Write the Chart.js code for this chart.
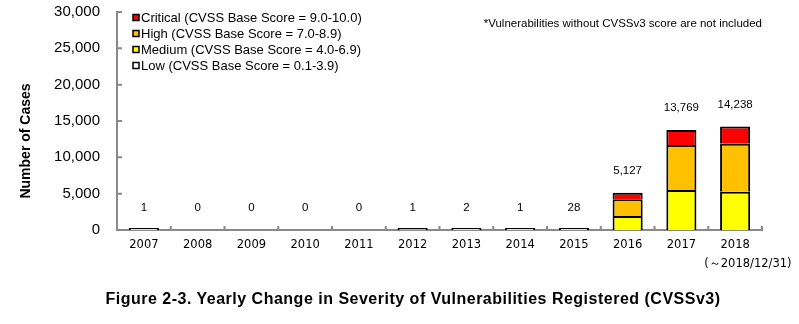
<!DOCTYPE html>
<html>
<head>
<meta charset="utf-8">
<script src="https://cdn.jsdelivr.net/npm/chart.js@4.4.1/dist/chart.umd.min.js"></script>
<style>
  body { margin: 0; background: #fff; }
  #wrap { position: relative; width: 799px; height: 324px; }
  #note { position: absolute; right: 37px; top: 17px; font: 11.5px "Liberation Sans", Arial, sans-serif; color: #000; }
  #fig { position: absolute; left: 0; width: 826px; top: 290px; text-align: center; font: bold 16px "Liberation Sans", Arial, sans-serif; letter-spacing: 0.5px; color: #000; }
</style>
</head>
<body>
<div id="wrap">
  <canvas id="chart" width="799" height="324"></canvas>
  <div id="note">*Vulnerabilities without CVSSv3 score are not included</div>
  <div id="fig">Figure 2-3. Yearly Change in Severity of Vulnerabilities Registered (CVSSv3)</div>
</div>
<script>
const years = ['2007', '2008', '2009', '2010', '2011', '2012', '2013', '2014', '2015', '2016', '2017', ['2018', '       (～2018/12/31)']];
// null = no cases in that severity
const low      = [null, null, null, null, null, null, null, null, null, null, null, null];
const medium   = [1, null, null, null, null, null, 2, 1, 28, 1930, 5500, 5270];
const high     = [null, null, null, null, null, 1, null, null, null, 2300, 6200, 6600];
const critical = [null, null, null, null, null, null, null, null, null, 897, 2069, 2368];
const yTicks = [0, 5000, 10000, 15000, 20000, 25000, 30000];

const series = [
  { label: 'Low (CVSS Base Score = 0.1-3.9)', data: low, color: '#ffffff' },
  { label: 'Medium (CVSS Base Score = 4.0-6.9)', data: medium, color: '#ffff00' },
  { label: 'High (CVSS Base Score = 7.0-8.9)', data: high, color: '#ffc000' },
  { label: 'Critical (CVSS Base Score = 9.0-10.0)', data: critical, color: '#ff0000' },
];
const totals = years.map((_, i) => series.reduce((s, d) => s + (d.data[i] || 0), 0));

const axisColor = '#898989';

// totals above bars, inside tick marks, legend box and y title
const extras = {
  id: 'extras',
  afterDatasetsDraw(chart) {
    const { ctx, scales: { x, y }, chartArea } = chart;
    ctx.save();
    // totals
    ctx.fillStyle = '#000';
    ctx.font = '11.5px "Liberation Sans", Arial, sans-serif';
    ctx.textAlign = 'center';
    ctx.textBaseline = 'middle';
    totals.forEach((t, i) => {
      ctx.fillText(t.toLocaleString('en-US'), x.getPixelForValue(i), y.getPixelForValue(t) - 22);
    });
    // ticks pointing inward
    ctx.strokeStyle = axisColor;
    ctx.lineWidth = 2;
    ctx.beginPath();
    yTicks.forEach(v => {
      const py = y.getPixelForValue(v);
      ctx.moveTo(chartArea.left, py);
      ctx.lineTo(chartArea.left + 5, py);
    });
    for (let i = 0; i < years.length; i++) {
      const px = x.getPixelForValue(i) + (x.getPixelForValue(1) - x.getPixelForValue(0)) / 2;
      ctx.moveTo(px, chartArea.bottom);
      ctx.lineTo(px, chartArea.bottom - 4);
    }
    ctx.stroke();
    // legend (reverse order)
    ctx.font = '13px "Liberation Sans", Arial, sans-serif';
    ctx.textAlign = 'left';
    const items = chart.data.datasets.slice().reverse();
    items.forEach((ds, k) => {
      const cy = 18 + k * 16;
      ctx.fillStyle = ds.backgroundColor;
      ctx.fillRect(133, cy - 3.5, 6, 6);
      ctx.strokeStyle = '#000';
      ctx.lineWidth = 1.5;
      ctx.strokeRect(133, cy - 3.5, 6, 6);
      ctx.fillStyle = '#000';
      ctx.fillText(ds.label, 141, cy);
    });
    // y title
    ctx.translate(26, 141);
    ctx.rotate(-Math.PI / 2);
    ctx.font = 'bold 14px "Liberation Sans", Arial, sans-serif';
    ctx.textAlign = 'center';
    ctx.fillText('Number of Cases', 0, 0);
    ctx.restore();
  }
};

new Chart(document.getElementById('chart'), {
  type: 'bar',
  data: {
    labels: years,
    datasets: series.map(s => ({
      label: s.label,
      data: s.data,
      backgroundColor: s.color,
      borderColor: '#000',
      borderWidth: 2,
      borderSkipped: 'start',
      minBarLength: 2,
      barPercentage: 0.56,
      categoryPercentage: 1,
    })),
  },
  options: {
    responsive: false,
    animation: false,
    layout: { padding: { top: 12, right: 37, bottom: 49, left: 0 } },
    plugins: { legend: { display: false }, tooltip: { enabled: false } },
    scales: {
      x: {
        stacked: true,
        grid: { display: false, drawTicks: false },
        border: { color: axisColor, width: 2 },
        ticks: {
          color: '#000', padding: 6, maxRotation: 0, autoSkip: false,
          font: { family: '"DejaVu Sans", sans-serif', size: 11.5, lineHeight: 1.6 },
        },
        afterFit: s => { s.height = 45; s.paddingLeft = 0; s.paddingRight = 0; },
      },
      y: {
        stacked: true,
        min: 0, max: 30000,
        afterBuildTicks: s => { s.ticks = yTicks.map(v => ({ value: v })); },
        grid: { display: false, drawTicks: false },
        border: { color: axisColor, width: 2 },
        ticks: {
          color: '#000', padding: 17,
          font: { family: '"Liberation Sans", Arial, sans-serif', size: 15 },
          callback: v => v.toLocaleString('en-US'),
        },
        afterFit: s => { s.width = 117; s.paddingTop = 0; s.paddingBottom = 0; },
      },
    },
  },
  plugins: [extras],
});
</script>
</body>
</html>
